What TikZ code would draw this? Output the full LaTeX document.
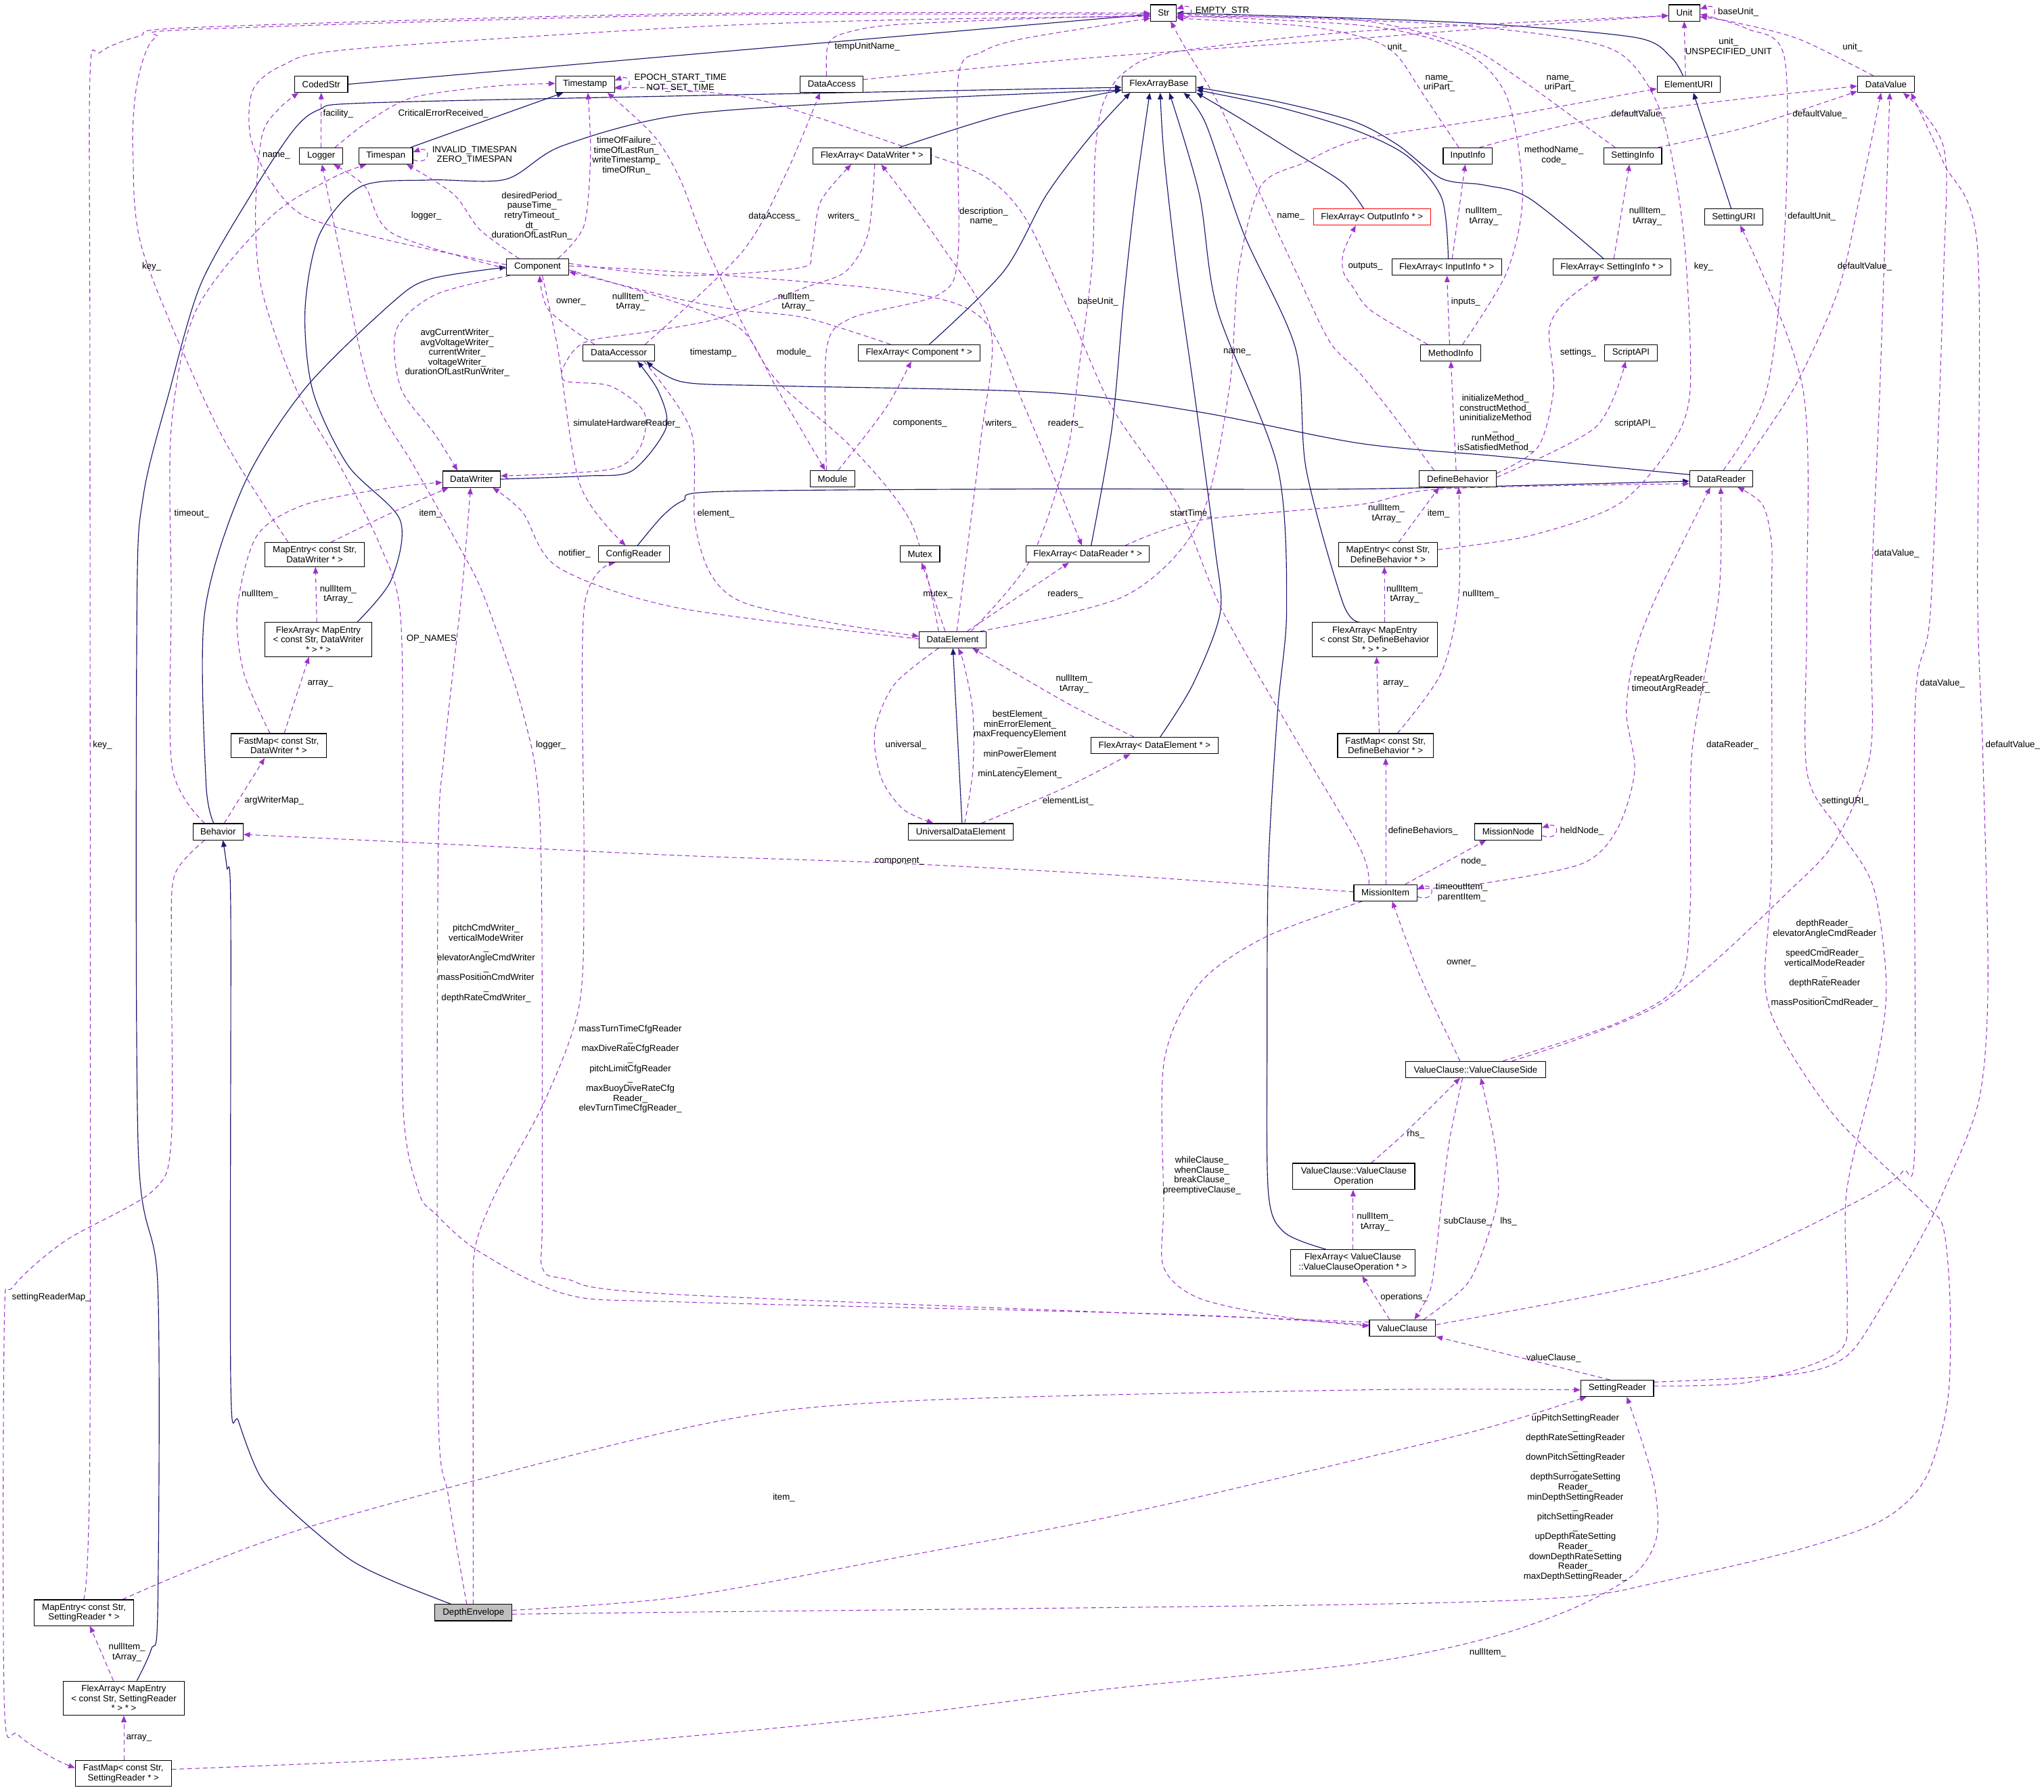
\documentclass[tikz,border=0pt]{standalone}
\usepackage{fontspec}
\setmainfont{Liberation Sans}
\usetikzlibrary{arrows.meta, backgrounds}
\definecolor{usecol}{HTML}{9A32CD}
\definecolor{inhcol}{HTML}{191970}
\newcommand{\dfont}{\fontsize{6.9}{7.6}\selectfont}
\tikzset{cls/.style={draw, line width=0.6pt, fill=white, align=center, font=\dfont, inner xsep=2.5pt, inner ysep=3pt, minimum height=12.5pt},
uses/.style={draw=usecol, line width=0.55pt, dash pattern=on 3.5pt off 2.5pt, -{Triangle[length=5pt, width=4pt]}},
isa/.style={draw=inhcol, line width=0.6pt, -{Triangle[length=5pt, width=4pt]}},
lbl/.style={font=\dfont, align=center, inner sep=0pt}}

\begin{document}
\begin{tikzpicture}[x=1pt, y=-1pt]
\useasboundingbox (0,0) rectangle (1568,1374);
% classes
\node[cls, minimum width=19.7pt] (str) at (892.6,9.9) {Str};
\node[cls, minimum width=23.8pt] (unit) at (1292.1,9.9) {Unit};
\node[cls, minimum width=40.8pt] (codedstr) at (246.4,64.6) {CodedStr};
\node[cls, minimum width=45.2pt] (tstamp) at (448.8,64.6) {Timestamp};
\node[cls, minimum width=48.2pt] (dacc) at (638,64.6) {DataAccess};
\node[cls, minimum width=56.8pt] (fab) at (889.1,64.6) {FlexArrayBase};
\node[cls, minimum width=48.4pt] (euri) at (1295.4,64.6) {ElementURI};
\node[cls, minimum width=43.6pt] (dval) at (1446.8,64.6) {DataValue};
\node[cls, minimum width=33.4pt] (logger) at (246.4,119.6) {Logger};
\node[cls, minimum width=41.2pt] (tspan) at (296,119.6) {Timespan};
\node[cls, minimum width=90.6pt] (faDW) at (668.9,119.6) {FlexArray< DataWriter * >};
\node[cls, minimum width=37.8pt] (inInfo) at (1126,119.6) {InputInfo};
\node[cls, minimum width=44.4pt] (setInfo) at (1252.5,119.6) {SettingInfo};
\node[cls, draw=red, minimum width=90pt] (faOI) at (1052.5,166.4) {FlexArray< OutputInfo * >};
\node[cls, minimum width=44.6pt] (setURI) at (1330,166.4) {SettingURI};
\node[cls, minimum width=47.8pt] (comp) at (412.4,204.8) {Component};
\node[cls, minimum width=84.2pt] (faII) at (1109.8,204.8) {FlexArray< InputInfo * >};
\node[cls, minimum width=90.2pt] (faSI) at (1236.6,204.8) {FlexArray< SettingInfo * >};
\node[cls, minimum width=54.8pt] (daccr) at (474.7,270.6) {DataAccessor};
\node[cls, minimum width=93.4pt] (faComp) at (705,270.6) {FlexArray< Component * >};
\node[cls, minimum width=46.4pt] (methInfo) at (1112.9,270.6) {MethodInfo};
\node[cls, minimum width=40.2pt] (scriptAPI) at (1251.1,270.6) {ScriptAPI};
\node[cls, minimum width=44.2pt] (dwriter) at (361.7,367.5) {DataWriter};
\node[cls, minimum width=34pt] (module) at (638.6,367.2) {Module};
\node[cls, minimum width=59.2pt] (defBeh) at (1118.3,367.2) {DefineBehavior};
\node[cls, minimum width=48.4pt] (dreader) at (1320.4,367.2) {DataReader};
\node[cls, minimum width=76.2pt] (meDW) at (241.4,425.3) {MapEntry< const Str,\\DataWriter * >};
\node[cls, minimum width=54.6pt] (cfgReader) at (486.2,425) {ConfigReader};
\node[cls, minimum width=30.4pt] (mutex) at (705.7,425) {Mutex};
\node[cls, minimum width=94.6pt] (faDR) at (834.4,425) {FlexArray< DataReader * >};
\node[cls, minimum width=76pt] (meDB) at (1064.8,425.3) {MapEntry< const Str,\\DefineBehavior * >};
\node[cls, minimum width=82pt] (faMeDW) at (244.2,490.5) {FlexArray< MapEntry\\< const Str, DataWriter\\* > * >};
\node[cls, minimum width=51.2pt] (delem) at (730.8,490.6) {DataElement};
\node[cls, minimum width=96pt] (faMeDB) at (1054.5,490.5) {FlexArray< MapEntry\\< const Str, DefineBehavior\\* > * >};
\node[cls, minimum width=73.2pt] (fmDW) at (213.8,571.9) {FastMap< const Str,\\DataWriter * >};
\node[cls, minimum width=97.6pt] (faDE) at (885.7,571.8) {FlexArray< DataElement * >};
\node[cls, minimum width=73.4pt] (fmDB) at (1062.8,571.9) {FastMap< const Str,\\DefineBehavior * >};
\node[cls, minimum width=38.4pt] (behavior) at (167.3,637.9) {Behavior};
\node[cls, minimum width=80.4pt] (ude) at (737,637.9) {UniversalDataElement};
\node[cls, minimum width=51.4pt] (mnode) at (1157,637.9) {MissionNode};
\node[cls, minimum width=48.4pt] (mitem) at (1062.8,684.7) {MissionItem};
\node[cls, minimum width=107.6pt] (vcs) at (1132,820.2) {ValueClause::ValueClauseSide};
\node[cls, minimum width=93.6pt] (vco) at (1038.5,902.2) {ValueClause::ValueClause\\Operation};
\node[cls, minimum width=95.8pt] (faVCO) at (1037.8,968.4) {FlexArray< ValueClause\\::ValueClauseOperation * >};
\node[cls, minimum width=50.8pt] (vclause) at (1075.9,1018.6) {ValueClause};
\node[cls, minimum width=55.8pt] (sreader) at (1240.6,1064.8) {SettingReader};
\node[cls, minimum width=76pt] (meSR) at (64.4,1236.9) {MapEntry< const Str,\\SettingReader * >};
\node[cls, fill=black!25, minimum width=59.2pt] (depthEnv) at (363.2,1236.8) {DepthEnvelope};
\node[cls, minimum width=93pt] (faMeSR) at (95,1302.4) {FlexArray< MapEntry\\< const Str, SettingReader\\* > * >};
\node[cls, minimum width=73.6pt] (fmSR) at (94.6,1360.2) {FastMap< const Str,\\SettingReader * >};

\begin{scope}[on background layer]
\fill[white] (0,0) rectangle (1568,1374);
% inheritance
\draw[isa] (codedstr.east) -- (str.west |- 0,11);
\draw[isa] plot[smooth] coordinates {(euri.north -| 1291,0) (1282,44) (1256,29) (1150,19) (1040,14) (str.east |- 0,10)};
\draw[isa] (tspan.north -| 315,0) -- (tstamp.south -| 432,0);
\draw[isa] plot[smooth] coordinates {(faDW.north -| 690,0) (770,88) (fab.west |- 0,69)};
\draw[isa] plot[smooth] coordinates {(faComp.north -| 713,0) (770,208) (803,149) (837,104) (fab.south -| 867,0)};
\draw[isa] plot[smooth] coordinates {(faDR.north -| 837,0) (853,328) (862,230) (871,149) (fab.south -| 882,0)};
\draw[isa] plot[smooth] coordinates {(faDE.north -| 890,0) (915,525) (936,470) (932,420) (916,300) (903,208) (893,120) (fab.south -| 890,0)};
\draw[isa] plot[smooth] coordinates {(faVCO.north -| 1017,0) (985,945) (973,915) (972,800) (973,665) (980,546) (987,467) (980,358) (934,238) (920,149) (fab.south -| 897,0)};
\draw[isa] plot[smooth] coordinates {(faMeDB.north -| 1043,0) (1030,462) (1002,360) (994,268) (954,179) (925,95) (fab.south -| 908,0)};
\draw[isa] plot[smooth] coordinates {(faOI.north -| 1046,0) (1030,140) (990,115) (950,90) (fab.south east)};
\draw[isa] plot[smooth] coordinates {(faII.north -| 1111,0) (1106,152) (1080,120) (1040,100) (980,82) (fab.east |- 0,69)};
\draw[isa] plot[smooth] coordinates {(faSI.north -| 1230,0) (1173,152) (1139,142) (1106,137) (1072,111) (1038,93) (980,78) (fab.east |- 0,67)};
\draw[isa] plot[smooth] coordinates {(faMeDW.north -| 274,0) (300,445) (307,399) (267,357) (240,300) (234,238) (245,180) (277,143) (330,138) (388,137.5) (431,112) (524,88) (700,76) (fab.west |- 0,69)};
\draw[isa] plot[smooth] coordinates {(faMeSR.north -| 105,0) (116,1265) (121,1235) (121,985) (106,880) (105,470) (110,380) (130,300) (154,218) (194,147) (225,100) (245,84) (280,79) (524,73.5) (fab.west |- 0,67)};
\draw[isa] plot[smooth] coordinates {(dwriter.east) (450,365) (485,361) (511,328) (505,300) (daccr.south -| 489,0)};
\draw[isa] plot[smooth] coordinates {(dreader.west |- 0,364) (1150,350) (1043,340) (920,316) (803,301) (600,296) (524,293) (daccr.south -| 496,0)};
\draw[isa] plot[smooth] coordinates {(behavior.north -| 164,0) (158,600) (157,470) (187,372) (234,298) (301,232) (330,214) (comp.west |- 0,205)};
\draw[isa] plot[smooth] coordinates {(depthEnv.north -| 346,0) (300,1212) (267,1195) (225,1160) (200,1133) (183,1090) (177,1060) (177,700) (174,665) (behavior.south -| 171,0)};
\draw[isa] plot[smooth] coordinates {(cfgReader.north -| 489,0) (508,396) (524,384) (552,377) (800,375) (1043,375) (dreader.west |- 0,369)};
\draw[isa] (setURI.north -| 1328,0) -- (euri.south -| 1299,0);
\draw[isa] (ude.north -| 738,0) -- (delem.south -| 731,0);
% self references
\draw[uses] ([yshift=-3pt]str.east) .. controls +(14,5) and +(14,-5) .. ([yshift=3pt]str.east);
\draw[uses] ([yshift=-3pt]unit.east) .. controls +(14,5) and +(14,-5) .. ([yshift=3pt]unit.east);
\draw[uses] ([yshift=-3pt]tstamp.east) .. controls +(14,5) and +(14,-5) .. ([yshift=3pt]tstamp.east);
\draw[uses] ([yshift=-3pt]tspan.east) .. controls +(14,5) and +(14,-5) .. ([yshift=3pt]tspan.east);
\draw[uses] ([yshift=-3pt]mnode.east) .. controls +(14,5) and +(14,-5) .. ([yshift=3pt]mnode.east);
\draw[uses] ([yshift=-3pt]mitem.east) .. controls +(14,5) and +(14,-5) .. ([yshift=3pt]mitem.east);
% members towards Str, Unit and the top row
\draw[uses] plot[smooth] coordinates {(dacc.north -| 634,0) (635,35) (646,26) (686,19) (800,14) (str.west |- 0,12)};
\draw[uses] plot[smooth] coordinates {(comp.west |- 0,203) (301,185) (234,166) (207,138) (192,104) (194,69) (217,50) (267,38) (524,21) (700,15) (str.west |- 0,12.5)};
\draw[uses] plot[smooth] coordinates {(meDW.north -| 221,0) (167,328) (110,194) (102,119) (103.6,74.5) (110,45) (120,28.5) (150,22.5) (524,11.8) (str.west |- 0,11)};
\draw[uses] plot[smooth] coordinates {(meSR.north -| 64,0) (69,1100) (69,300) (69,60) (77,40) (107,27.7) (150,21) (524,10.5) (str.west |- 0,10)};
\draw[uses] plot[smooth] coordinates {(module.north -| 634,0) (634,268) (653,244) (720,226) (735,194) (735,60) (753,40) (786,29.4) (str.west |- 0,14)};
\draw[uses] plot[smooth] coordinates {(defBeh.north -| 1100,0) (1070,320) (1043,286) (1020,262) (994,208) (964,143) (935,80) (910,38) (str.south -| 898,0)};
\draw[uses] plot[smooth] coordinates {(inInfo.north -| 1119,0) (1092,72.7) (1072,43) (1050,30) (1000,20) (str.east |- 0,14)};
\draw[uses] plot[smooth] coordinates {(setInfo.north -| 1239,0) (1207,90) (1166,60.6) (1122.5,34.6) (1038,15) (str.east |- 0,13)};
\draw[uses] plot[smooth] coordinates {(methInfo.north -| 1122,0) (1156,208.5) (1168,149) (1156,74.5) (1122,38.7) (1050,20) (str.east |- 0,12)};
\draw[uses] plot[smooth] coordinates {(meDB.east |- 0,421.5) (1173,411) (1241,387) (1281,343) (1296.6,298) (1291.5,179) (1275,89) (1248,45) (1207,30) (1100,18) (str.east |- 0,11)};
\draw[uses] plot[smooth] coordinates {(vclause.west |- 0,1016) (900,1008) (524,998.6) (434.6,992.8) (367.7,960) (334,931) (321,913.5) (309,844) (309,605.7) (307,470) (291,417) (261,357.5) (227,298) (201,223) (196,164) (201,104) (214,83.4) (codedstr.south -| 229,0)};
\draw[uses] (logger.north) -- (codedstr.south);
\draw[uses] plot[smooth] coordinates {(logger.north -| 257,0) (284,92) (317.6,74.5) (380,66) (tstamp.west |- 0,64)};
\draw[uses] plot[smooth] coordinates {(comp.north -| 428,0) (448,173) (453,119) (tstamp.south -| 451,0)};
\draw[uses] plot[smooth] coordinates {(comp.west |- 0,206) (301,179) (280,143) (logger.south -| 256,0)};
\draw[uses] plot[smooth] coordinates {(comp.north -| 398,0) (368,176) (348,149) (tspan.south -| 312,0)};
\draw[uses] plot[smooth] coordinates {(daccr.north -| 456,0) (421,238) (comp.south -| 414,0)};
\draw[uses] plot[smooth] coordinates {(faComp.north -| 683,0) (619,244) (569,238) (524,230) (comp.east |- 0,208.5)};
\draw[uses] plot[smooth] coordinates {(faDW.south -| 671,0) (666,179) (649,208) (619,220) (552,244) (500,254) (450,262) (434,278) (433,292) (468,296) (494,316) (491,343) (468,360) (dwriter.east |- 0,365)};
\draw[uses] plot[smooth] coordinates {(comp.south -| 391,0) (334,226) (304,253) (307.6,298) (334,333.6) (dwriter.north -| 351,0)};
\draw[uses] plot[smooth] coordinates {(comp.south -| 416,0) (428,268) (445,372) (cfgReader.north -| 480,0)};
\draw[uses] plot[smooth] coordinates {(comp.east |- 0,207) (519,232) (569,253) (596,298) (module.north -| 633,0)};
\draw[uses] plot[smooth] coordinates {(comp.east |- 0,202) (519,211.5) (612.6,205.5) (622.6,193.6) (629.3,155) (faDW.south -| 653,0)};
\draw[uses] plot[smooth] coordinates {(comp.east |- 0,204) (519,208.5) (686,223) (753,244) (786.4,313) (faDR.north -| 830,0)};
\draw[uses] plot[smooth] coordinates {(daccr.north -| 495,0) (569,193.6) (602.6,134) (dacc.south -| 629,0)};
\draw[uses] plot[smooth] coordinates {(daccr.south -| 494,0) (530,330) (533,400) (545,440) (570,462) (640,478) (delem.west |- 0,488)};
\draw[uses] plot[smooth] coordinates {(delem.north -| 720,0) (699.5,402) (652.7,342.6) (596,292) (569,247) (540,185) (521.5,137) (501.5,104) (tstamp.south -| 466,0)};
\draw[uses] plot[smooth] coordinates {(mitem.north -| 1050,0) (1043,650) (987,555) (937,467) (903.4,387) (853.3,313) (819.9,238) (786.4,167) (753,134) (686,110) (585.9,77.5) (519,68.5) (tstamp.east |- 0,67)};
\draw[uses] plot[smooth] coordinates {(delem.north -| 745,0) (790,430) (818,350) (828,280) (838,200) (840,120) (846,80) (863,55) (900,40) (1043,24) (unit.west |- 0,12)};
\draw[uses] plot[smooth] coordinates {(delem.north -| 752,0) (863,457) (920,400) (943,298) (950,208) (967,143) (1000,125) (1043,107) (1150,90) (euri.west |- 0,68)};
\draw[uses] (delem.north -| 725,0) -- (mutex.south -| 707,0);
\draw[uses] (delem.north -| 742,0) -- (faDR.south -| 820,0);
\draw[uses] plot[smooth] coordinates {(delem.north -| 734,0) (752,340) (760,253) (720,185) (faDW.south -| 676,0)};
\draw[uses] plot[smooth] coordinates {(module.north -| 643,0) (679.5,313) (faComp.south -| 699,0)};
\draw[uses] plot[smooth] coordinates {(faDR.north -| 863,0) (920,399) (1043,387) (1105.6,375) (dreader.west |- 0,371)};
\draw[uses] plot[smooth] coordinates {(delem.west |- 0,490) (519,466) (428,435) (401,393) (dwriter.south -| 378,0)};
\draw[uses] plot[smooth] coordinates {(meDW.north -| 254,0) (301,393) (dwriter.south -| 344,0)};
\draw[uses] plot[smooth] coordinates {(fmDW.north -| 207,0) (187,516) (182,467) (197,411) (234,387) (300,374) (dwriter.west |- 0,370)};
\draw[uses] (faMeDW.north -| 243,0) -- (meDW.south -| 242,0);
\draw[uses] (fmDW.north -| 218,0) -- (faMeDW.south -| 237,0);
\draw[uses] (behavior.north -| 172,0) -- (fmDW.south -| 203,0);
\draw[uses] plot[smooth] coordinates {(behavior.north -| 157,0) (132,588) (131.4,456.7) (131.4,327.7) (150.4,238) (207,167) (254,137) (tspan.south -| 281,0)};
\draw[uses] plot[smooth] coordinates {(behavior.south -| 157,0) (134,671) (131.4,725) (131.4,874) (117,913.5) (50,951.7) (10,987) (3.3,1016) (3.3,1307) (13.4,1330) (40,1348) (fmSR.west |- 0,1356)};
\draw[uses] (faMeSR.north -| 87,0) -- (meSR.south -| 69,0);
\draw[uses] (fmSR.north -| 95,0) -- (faMeSR.south -| 95,0);
% setting readers and data readers
\draw[uses] plot[smooth] coordinates {(meSR.north -| 94,0) (234,1172) (524,1095.5) (686,1075) (1043,1066) (sreader.west |- 0,1066)};
\draw[uses] plot[smooth] coordinates {(depthEnv.east |- 0,1235) (524,1224.6) (686,1195) (853,1163) (1043,1119) (1139.4,1095.5) (sreader.south -| 1217,0)};
\draw[uses] plot[smooth] coordinates {(fmSR.east |- 0,1357) (334,1348) (524,1332) (686,1316) (853,1295) (1043,1276) (1139,1257) (1207,1233.5) (1254,1207) (1271,1178) (1268,1134) (sreader.south -| 1248,0)};
\draw[uses] plot[smooth] coordinates {(depthEnv.east |- 0,1238) (519,1236.5) (1043,1230.5) (1207,1224.7) (1274.6,1213) (1376,1189.5) (1443.6,1166) (1477,1134) (1494,1075) (1496,1001.6) (1491,943) (1477,924) (1410,859) (1369,799) (1354,755) (1359,665) (1359,467) (1359,417) (1352,387) (dreader.south -| 1333,0)};
\draw[uses] plot[smooth] coordinates {(depthEnv.north -| 358,0) (344,1148) (336,1075) (336,665) (341,575.6) (354,456.7) (dwriter.south -| 361,0)};
\draw[uses] plot[smooth] coordinates {(depthEnv.north -| 363,0) (363,1016) (364.4,957.5) (381,913.5) (418,844) (444.6,769.5) (448,665) (448,467) (cfgReader.south -| 472,0)};
\draw[uses] plot[smooth] coordinates {(vclause.west |- 0,1014) (519,992.8) (434.6,981) (416,972) (416,923.8) (414.5,635.5) (401,546) (371,456.7) (351,417) (317.6,357.5) (284,298) (260.8,193.6) (logger.south -| 247,0)};
\draw[uses] plot[smooth] coordinates {(mitem.south -| 1045,0) (970,719) (920,754.6) (893,814) (892.7,924) (892.7,972) (920,995.7) (987,1010.4) (vclause.west |- 0,1017)};
\draw[uses] plot[smooth] coordinates {(mitem.west |- 0,684) (853.3,671) (686,662) (519,656) (334,647) (behavior.east |- 0,640)};
\draw[uses] (mitem.north -| 1063,0) -- (fmDB.south -| 1063,0);
\draw[uses] (mitem.north -| 1078,0) -- (mnode.south -| 1140,0);
\draw[uses] plot[smooth] coordinates {(mitem.east |- 0,682) (1139.4,677.2) (1213.8,662.3) (1240.8,635.5) (1254,591) (1247.6,546) (1254,501.4) (1271,456.7) (dreader.south -| 1312,0)};
\draw[uses] plot[smooth] coordinates {(vcs.north -| 1120,0) (1090,750) (mitem.south -| 1068,0)};
\draw[uses] plot[smooth] coordinates {(vcs.north -| 1153,0) (1240.8,784.4) (1288,754.6) (1296.6,695) (1298,576) (1318.5,456.7) (dreader.south -| 1320,0)};
\draw[uses] plot[smooth] coordinates {(vcs.north -| 1160,0) (1274.6,769.5) (1376,680) (1410,641.4) (1435,576) (1435,467) (1442,300) (dval.south -| 1449.7,0)};
\draw[uses] plot[smooth] coordinates {(vclause.east |- 0,1016) (1240,990) (1320,970) (1380,944) (1440,913) (1460,898) (1469,874) (1469,546) (1481,467) (1491,208.5) (1491,113) (dval.south -| 1460,0)};
\draw[uses] plot[smooth] coordinates {(sreader.east |- 0,1063) (1342,1060) (1410,1037) (1417,1001.6) (1416.6,913.5) (1440,814) (1447,754.6) (1437,680) (1410,635.5) (1386,591) (1386,467) (1383,298) (setURI.south -| 1335,0)};
\draw[uses] plot[smooth] coordinates {(sreader.east |- 0,1060) (1376,1054) (1416.6,1040) (1443.6,1001.6) (1477,943) (1491,913.5) (1518,844) (1525,754.6) (1521,576) (1517,456.7) (1517,190.6) (1491,125) (dval.south -| 1466,0)};
\draw[uses] (sreader.north -| 1235,0) -- (vclause.south east);
\draw[uses] plot[smooth] coordinates {(vcs.south -| 1122,0) (1112,874) (1105.6,924) (1102,957.5) (1097,990) (vclause.north -| 1085,0)};
\draw[uses] plot[smooth] coordinates {(vclause.north -| 1092,0) (1126,984) (1143,943) (1149.5,913.5) (1146,874) (vcs.south -| 1136,0)};
\draw[uses] plot[smooth] coordinates {(vco.north -| 1052,0) (1078.6,868) (vcs.south -| 1120,0)};
\draw[uses] (faVCO.north -| 1038,0) -- (vco.south -| 1038,0);
\draw[uses] (vclause.north -| 1066,0) -- (faVCO.south -| 1045,0);
% define behaviours and method descriptions
\draw[uses] (fmDB.north -| 1058,0) -- (faMeDB.south -| 1056,0);
\draw[uses] plot[smooth] coordinates {(fmDB.north -| 1072,0) (1105.6,516) (1119,456.7) (defBeh.south -| 1119,0)};
\draw[uses] (faMeDB.north -| 1062,0) -- (meDB.south -| 1062,0);
\draw[uses] (meDB.north -| 1073,0) -- (defBeh.south -| 1104,0);
\draw[uses] (defBeh.north -| 1117,0) -- (methInfo.south -| 1113,0);
\draw[uses] plot[smooth] coordinates {(defBeh.east |- 0,363) (1180,342.6) (1191.8,298) (1188.4,253) (1200,232) (faSI.south -| 1227,0)};
\draw[uses] plot[smooth] coordinates {(defBeh.east |- 0,366) (1223.9,327.7) (scriptAPI.south -| 1247,0)};
\draw[uses] (methInfo.north -| 1112,0) -- (faII.south -| 1110,0);
\draw[uses] plot[smooth] coordinates {(methInfo.north -| 1095,0) (1051.5,238) (1038,220.4) (1030.5,208.5) (1030.5,193.6) (faOI.south -| 1040,0)};
\draw[uses] (faII.north -| 1114,0) -- (inInfo.south -| 1124,0);
\draw[uses] (faSI.north -| 1238,0) -- (setInfo.south -| 1250,0);
\draw[uses] plot[smooth] coordinates {(setInfo.north -| 1272,0) (1342,97) (dval.west |- 0,70)};
\draw[uses] plot[smooth] coordinates {(inInfo.north -| 1135,0) (1240,88) (dval.west |- 0,66)};
\draw[uses] plot[smooth] coordinates {(dacc.east |- 0,61) (753,52) (853,43) (1043,29.4) (1150,21) (unit.west |- 0,12)};
\draw[uses] (euri.north -| 1293,0) -- (unit.south -| 1292,0);
\draw[uses] plot[smooth] coordinates {(dval.north -| 1437,0) (1380,30) (1330,17) (unit.east |- 0,13)};
\draw[uses] plot[smooth] coordinates {(dreader.north -| 1322,0) (1355,300) (1369,178.7) (1369,44.7) (1340,22) (unit.east |- 0,11)};
\draw[uses] plot[smooth] coordinates {(dreader.north -| 1334,0) (1376,298) (1410,223) (1427,149) (dval.south -| 1443,0)};
% data elements
\draw[uses] plot[smooth] coordinates {(ude.north -| 740,0) (746.3,591) (746.3,546) (739.6,510) (delem.south -| 735,0)};
\draw[uses] plot[smooth] coordinates {(faDE.north -| 870,0) (820,540) (delem.south -| 746,0)};
\draw[uses] plot[smooth] coordinates {(delem.south -| 720,0) (686,525) (671,561) (676,596.7) (692.8,620.6) (ude.north -| 716,0)};
\draw[uses] plot[smooth] coordinates {(ude.north -| 753,0) (820,602.7) (faDE.south -| 867,0)};
\end{scope}

% member names
\node[lbl] (lbEmptyStr) at (937.7,8.6) {EMPTY\_STR};
\node[lbl] (lbBaseUnitSelf) at (1333.4,9.2) {baseUnit\_};
\node[lbl] (lbEpoch) at (522,63.7) {EPOCH\_START\_TIME\\NOT\_SET\_TIME};
\node[lbl] (lbInvalid) at (364,119) {INVALID\_TIMESPAN\\ZERO\_TIMESPAN};
\node[lbl] (lbHeldNode) at (1213.5,637.5) {heldNode\_};
\node[lbl] (lbTimeoutItem) at (1121.3,684.5) {timeoutItem\_\\parentItem\_};
\node[lbl] (lbTempUnit) at (665.2,36) {tempUnitName\_};
\node[lbl] (lbCompName) at (212,119.4) {name\_};
\node[lbl] (lbKeyDW) at (116.3,204.4) {key\_};
\node[lbl] (lbKeySR) at (78.6,571.4) {key\_};
\node[lbl] (lbDescr) at (754.7,166.1) {description\_\\name\_};
\node[lbl] (lbDefName) at (990.2,166) {name\_};
\node[lbl] (lbInName) at (1104,64) {name\_\\uriPart\_};
\node[lbl] (lbSetName) at (1196.9,64) {name\_\\uriPart\_};
\node[lbl] (lbMethName) at (1192,119) {methodName\_\\code\_};
\node[lbl] (lbKeyDB) at (1306.8,204.4) {key\_};
\node[lbl] (lbOpNames) at (331,490) {OP\_NAMES};
\node[lbl] (lbFacility) at (259.4,87.3) {facility\_};
\node[lbl] (lbCritical) at (340,87.3) {CriticalErrorReceived\_};
\node[lbl] (lbTimeOf) at (480.5,119.4) {timeOfFailure\_\\timeOfLastRun\_\\writeTimestamp\_\\timeOfRun\_};
\node[lbl] (lbLogger) at (327,165.6) {logger\_};
\node[lbl] (lbDesired) at (408,165.6) {desiredPeriod\_\\pauseTime\_\\retryTimeout\_\\dt\_\\durationOfLastRun\_};
\node[lbl] (lbOwner) at (438,231.5) {owner\_};
\node[lbl] (lbCompItems) at (610.8,231.5) {nullItem\_\\tArray\_};
\node[lbl] (lbDWItems) at (483.7,231.5) {nullItem\_\\tArray\_};
\node[lbl] (lbAvg) at (350.7,270.5) {avgCurrentWriter\_\\avgVoltageWriter\_\\currentWriter\_\\voltageWriter\_\\durationOfLastRunWriter\_};
\node[lbl] (lbSimulate) at (480.8,324.7) {simulateHardwareReader\_};
\node[lbl] (lbModule) at (609,270.2) {module\_};
\node[lbl] (lbWritersC) at (647.2,166) {writers\_};
\node[lbl] (lbReadersC) at (817.5,324.7) {readers\_};
\node[lbl] (lbDataAccess) at (594,166) {dataAccess\_};
\node[lbl] (lbElement) at (549.1,393.8) {element\_};
\node[lbl] (lbTimestamp) at (547.2,270.2) {timestamp\_};
\node[lbl] (lbStartTime) at (913.8,393.8) {startTime\_};
\node[lbl] (lbBaseUnit) at (842.3,231.5) {baseUnit\_};
\node[lbl] (lbElemName) at (949,270.2) {name\_};
\node[lbl] (lbMutex) at (719.4,455.8) {mutex\_};
\node[lbl] (lbReadersE) at (817.2,455.8) {readers\_};
\node[lbl] (lbWritersE) at (767.8,324.7) {writers\_};
\node[lbl] (lbComponents) at (705.7,324.7) {components\_};
\node[lbl] (lbDRItems) at (1063.5,393.8) {nullItem\_\\tArray\_};
\node[lbl] (lbNotifier) at (440.6,424.8) {notifier\_};
\node[lbl] (lbItemDW) at (330,393.8) {item\_};
\node[lbl] (lbNullDW) at (199.4,455.8) {nullItem\_};
\node[lbl] (lbMeDWItems) at (259.4,455.8) {nullItem\_\\tArray\_};
\node[lbl] (lbArrayDW) at (245.7,524.6) {array\_};
\node[lbl] (lbArgWriter) at (210.3,614) {argWriterMap\_};
\node[lbl] (lbTimeout) at (147,393.8) {timeout\_};
\node[lbl] (lbSettingMap) at (39.3,994.8) {settingReaderMap\_};
\node[lbl] (lbMeSRItems) at (97.4,1267.2) {nullItem\_\\tArray\_};
\node[lbl] (lbArraySR) at (106.6,1332.8) {array\_};
\node[lbl] (lbItemSR) at (601.3,1148.4) {item\_};
\node[lbl] (lbUpPitch) at (1208.5,1148.5) {upPitchSettingReader\\\_\\depthRateSettingReader\\\_\\downPitchSettingReader\\\_\\depthSurrogateSetting\\Reader\_\\minDepthSettingReader\\\_\\pitchSettingReader\\\_\\upDepthRateSetting\\Reader\_\\downDepthRateSetting\\Reader\_\\maxDepthSettingReader\_};
\node[lbl] (lbNullSR) at (1141.3,1267.3) {nullItem\_};
\node[lbl] (lbDepthReader) at (1399.7,739) {depthReader\_\\elevatorAngleCmdReader\\\_\\speedCmdReader\_\\verticalModeReader\\\_\\depthRateReader\\\_\\massPositionCmdReader\_};
\node[lbl] (lbPitchCmd) at (372.9,738.8) {pitchCmdWriter\_\\verticalModeWriter\\\_\\elevatorAngleCmdWriter\\\_\\massPositionCmdWriter\\\_\\depthRateCmdWriter\_};
\node[lbl] (lbMassTurn) at (483.5,819.9) {massTurnTimeCfgReader\\\_\\maxDiveRateCfgReader\\\_\\pitchLimitCfgReader\\\_\\maxBuoyDiveRateCfg\\Reader\_\\elevTurnTimeCfgReader\_};
\node[lbl] (lbLoggerVC) at (422.6,571.4) {logger\_};
\node[lbl] (lbWhile) at (922,901.6) {whileClause\_\\whenClause\_\\breakClause\_\\preemptiveClause\_};
\node[lbl] (lbComponent) at (690,660.5) {component\_};
\node[lbl] (lbDefineBeh) at (1091.6,637.5) {defineBehaviors\_};
\node[lbl] (lbNode) at (1130.4,660.5) {node\_};
\node[lbl] (lbRepeat) at (1281.8,524.6) {repeatArgReader\_\\timeoutArgReader\_};
\node[lbl] (lbOwnerVCS) at (1121,738.8) {owner\_};
\node[lbl] (lbDataReader) at (1329,571.4) {dataReader\_};
\node[lbl] (lbDataValueS) at (1455,424.8) {dataValue\_};
\node[lbl] (lbDataValueC) at (1490,524.3) {dataValue\_};
\node[lbl] (lbSettingURI) at (1415.5,614.6) {settingURI\_};
\node[lbl] (lbDefValSR) at (1544,571.4) {defaultValue\_};
\node[lbl] (lbValueClause) at (1191.8,1041.5) {valueClause\_};
\node[lbl] (lbSubClause) at (1125.8,937) {subClause\_};
\node[lbl] (lbLhs) at (1157.2,937) {lhs\_};
\node[lbl] (lbRhs) at (1086,869.9) {rhs\_};
\node[lbl] (lbVCOItems) at (1054.9,937.2) {nullItem\_\\tArray\_};
\node[lbl] (lbOperations) at (1077,994.8) {operations\_};
\node[lbl] (lbArrayDB) at (1070.7,524.6) {array\_};
\node[lbl] (lbNullDB) at (1136,455.8) {nullItem\_};
\node[lbl] (lbMeDBItems) at (1077.5,455.7) {nullItem\_\\tArray\_};
\node[lbl] (lbItemDB) at (1103.5,393.8) {item\_};
\node[lbl] (lbInit) at (1147.2,324.7) {initializeMethod\_\\constructMethod\_\\uninitializeMethod\\\_\\runMethod\_\\isSatisfiedMethod\_};
\node[lbl] (lbSettings) at (1210.6,270.2) {settings\_};
\node[lbl] (lbScriptAPI) at (1254.3,324.7) {scriptAPI\_};
\node[lbl] (lbInputs) at (1124.4,231.5) {inputs\_};
\node[lbl] (lbOutputs) at (1047.4,204.4) {outputs\_};
\node[lbl] (lbIIItems) at (1138.2,166) {nullItem\_\\tArray\_};
\node[lbl] (lbSIItems) at (1263.7,166) {nullItem\_\\tArray\_};
\node[lbl] (lbDefValSI) at (1396,87.7) {defaultValue\_};
\node[lbl] (lbDefValII) at (1256.9,87.7) {defaultValue\_};
\node[lbl] (lbUnitDA) at (1071.8,36.3) {unit\_};
\node[lbl] (lbUnitEU) at (1326,36) {unit\_\\UNSPECIFIED\_UNIT};
\node[lbl] (lbUnitDV) at (1421,36.3) {unit\_};
\node[lbl] (lbDefUnit) at (1389.7,166) {defaultUnit\_};
\node[lbl] (lbDefValDR) at (1430.4,204.4) {defaultValue\_};
\node[lbl] (lbBest) at (782.4,571) {bestElement\_\\minErrorElement\_\\maxFrequencyElement\\\_\\minPowerElement\\\_\\minLatencyElement\_};
\node[lbl] (lbFADEItems) at (824,524.6) {nullItem\_\\tArray\_};
\node[lbl] (lbUniversal) at (695,571.4) {universal\_};
\node[lbl] (lbElementList) at (819.3,614.3) {elementList\_};
\end{tikzpicture}
\end{document}
